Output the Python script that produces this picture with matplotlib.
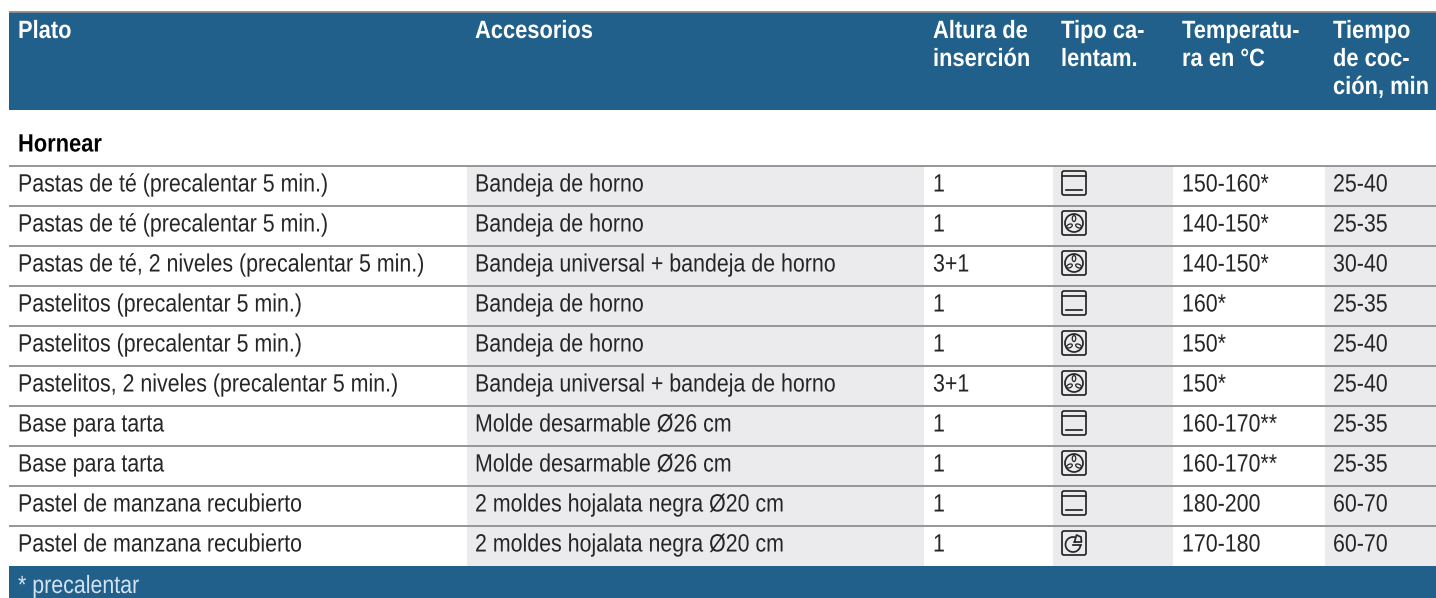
import matplotlib
matplotlib.use("Agg")
import matplotlib.pyplot as plt
from matplotlib.patches import Rectangle, FancyBboxPatch, Circle, Ellipse, Arc
from matplotlib.patheffects import AbstractPathEffect
from matplotlib.text import Text
from matplotlib.transforms import Affine2D, Bbox

headers = [["Plato"], ["Accesorios"], ["Altura de", "inserción"], ["Tipo ca-", "lentam."],
           ["Temperatu-", "ra en °C"], ["Tiempo", "de coc-", "ción, min"]]
section = "Hornear"
footer = "* precalentar"
platos = ["Pastas de té (precalentar 5 min.)", "Pastas de té (precalentar 5 min.)",
          "Pastas de té, 2 niveles (precalentar 5 min.)", "Pastelitos (precalentar 5 min.)",
          "Pastelitos (precalentar 5 min.)", "Pastelitos, 2 niveles (precalentar 5 min.)",
          "Base para tarta", "Base para tarta", "Pastel de manzana recubierto", "Pastel de manzana recubierto"]
accesorios = ["Bandeja de horno", "Bandeja de horno", "Bandeja universal + bandeja de horno",
              "Bandeja de horno", "Bandeja de horno", "Bandeja universal + bandeja de horno",
              "Molde desarmable Ø26 cm", "Molde desarmable Ø26 cm",
              "2 moldes hojalata negra Ø20 cm", "2 moldes hojalata negra Ø20 cm"]
alturas = ["1", "1", "3+1", "1", "1", "3+1", "1", "1", "1", "1"]
tipos = ["top", "fan", "fan", "top", "fan", "fan", "top", "fan", "top", "circ"]
temperaturas = ["150-160*", "140-150*", "140-150*", "160*", "150*", "150*",
                "160-170**", "160-170**", "180-200", "170-180"]
tiempos = ["25-40", "25-35", "30-40", "25-35", "25-40", "25-40", "25-35", "25-35", "60-70", "60-70"]

plt.rcParams["font.family"] = ["Liberation Sans", "DejaVu Sans"]


class Condense(AbstractPathEffect):
    """Draw a text narrower, as the reference's condensed face is."""
    def __init__(self, sx):
        super().__init__()
        self.sx = sx

    def draw_path(self, renderer, gc, tpath, affine, rgbFace=None):
        renderer.draw_path(gc, tpath, Affine2D().scale(self.sx, 1) + affine, rgbFace)


class NarrowText(Text):
    """A left-aligned text whose reported extent is its drawn, condensed one."""
    def __init__(self, *args, sx=1.0, **kwargs):
        super().__init__(*args, **kwargs)
        self.sx = sx
        self.set_path_effects([Condense(sx)])

    def get_window_extent(self, renderer=None, dpi=None):
        b = super().get_window_extent(renderer, dpi)
        return Bbox.from_extents(b.x0, b.y0, b.x0 + b.width * self.sx, b.y1)


REG, BOLD = 0.855, 0.875

BLUE = "#22608c"; SHADE = "#ebebed"; LINE = "#8e8e8e"; INK = "#262626"
W, H = 1436, 598
fig = plt.figure(figsize=(W / 100, H / 100), dpi=100)
ax = fig.add_axes([0, 0, 1, 1])
ax.set_xlim(0, W); ax.set_ylim(H, 0); ax.axis("off")


def put(x, y, s, sx, **kw):
    ax.add_artist(NarrowText(x, y, s, sx=sx, va="baseline", ha="left", fontsize=FS, zorder=4, **kw))


L = 9
text_x = [18, 475, 933, 1061, 1182, 1333]
shaded = [(467, 924), (1053, 1173), (1325, W)]
row_top, row_h = 166, 40
n = len(platos)
FS = 18.0

for a, b in shaded:
    ax.add_patch(Rectangle((a, row_top), b - a, row_h * n, fc=SHADE, ec="none", zorder=1))
ax.add_patch(Rectangle((L, 12), W - L, 98, fc=BLUE, ec="none", zorder=1))
ax.add_patch(Rectangle((L, row_top + row_h * n), W - L, H - row_top - row_h * n, fc=BLUE, ec="none", zorder=1))
ax.plot([L, W], [12, 12], color=LINE, lw=1.3, zorder=3, solid_capstyle="butt")
for i in range(n):
    y = row_top + i * row_h
    ax.plot([L, W], [y, y], color=LINE, lw=1.3, zorder=3, solid_capstyle="butt")

for x, lines in zip(text_x, headers):
    for j, t in enumerate(lines):
        put(x, 38 + j * 28, t, BOLD, color="white", fontweight="bold")
put(18, 151.5, section, BOLD, color="black", fontweight="bold")
put(18, 593, footer, REG, color="#d5e3ee")


def icon(kind, top):
    x0, y0, s = 1062, top + 5, 24
    cx, cy = x0 + s / 2, y0 + s / 2
    lw = 1.25
    ax.add_patch(FancyBboxPatch((x0 + 1, y0 + 1), s - 2, s - 2, boxstyle="round,pad=1,rounding_size=2",
                                fc="none", ec=INK, lw=lw, zorder=4))
    if kind == "top":
        ax.plot([x0, x0 + s], [y0 + 5, y0 + 5], color=INK, lw=lw, zorder=4)
        ax.plot([x0 + 3.7, x0 + s - 3.7], [y0 + 19, y0 + 19], color=INK, lw=lw, zorder=4)
    elif kind == "fan":
        ax.add_patch(Circle((cx, cy), 9, fc="none", ec=INK, lw=lw, zorder=4))
        ax.add_patch(Ellipse((cx, cy - 4.5), 3.5, 6, fc="none", ec=INK, lw=0.9, zorder=4))
        ax.add_patch(Ellipse((cx - 4.5, cy + 3), 6, 3.5, angle=-25, fc="none", ec=INK, lw=0.9, zorder=4))
        ax.add_patch(Ellipse((cx + 4.5, cy + 3), 6, 3.5, angle=25, fc="none", ec=INK, lw=0.9, zorder=4))
    else:
        ax.add_patch(Arc((cx - 1, cy + 1.5), 15, 15, theta1=0, theta2=285, ec=INK, lw=lw, zorder=4))
        ax.plot([cx - 1, cx + 6.5], [cy + 1.5, cy + 1.5], color=INK, lw=lw, zorder=4)
        ax.plot([cx + 0.5, cx + 2.5, cx + 7, cx + 7.5, cx + 0.5], [cy - 1, cy - 8, cy - 6, cy - 1, cy - 1],
                color=INK, lw=lw, zorder=4)


for i in range(n):
    top = row_top + i * row_h
    base = top + 25.5
    for x, col in ((18, platos), (475, accesorios), (933, alturas), (1182, temperaturas), (1333, tiempos)):
        put(x, base, col[i], REG, color=INK)
    icon(tipos[i], top)

fig.savefig("out.png", dpi=100, facecolor="white")
